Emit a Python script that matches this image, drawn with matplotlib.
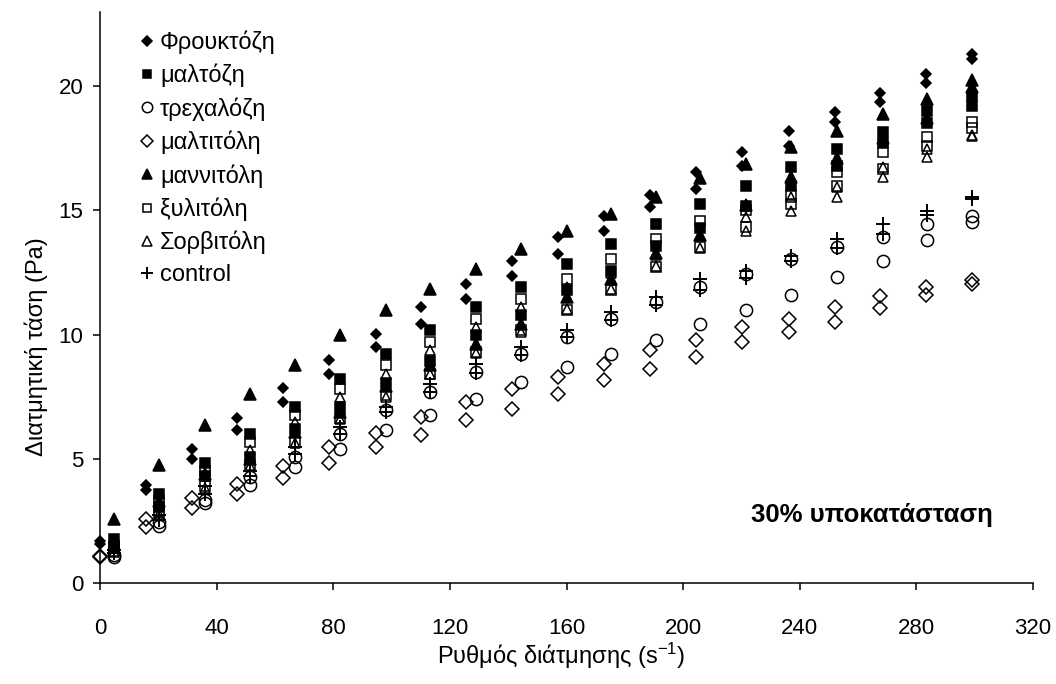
import matplotlib
matplotlib.use('Agg')
import matplotlib.pyplot as plt

plt.rcParams['font.family'] = ['Liberation Sans', 'DejaVu Sans']
plt.rcParams['mathtext.fontset'] = 'custom'
plt.rcParams['mathtext.rm'] = 'Liberation Sans'
plt.rcParams['mathtext.it'] = 'Liberation Sans:italic'

# ── ρυθμοί διάτμησης (s-1) ──
x_d = [0, 15.8, 31.4, 47.0, 62.7, 78.5, 94.5, 110.2, 125.7, 141.4,
       157.0, 172.8, 188.8, 204.4, 220.2, 236.2, 252.0, 267.6, 283.3, 299.0]   # φρουκτόζη, μαλτιτόλη
x_o = [4.8, 20.2, 36.0, 51.5, 66.8, 82.3, 98.0, 113.2, 128.8, 144.4,
       160.0, 175.3, 190.8, 205.9, 221.6, 237.1, 252.7, 268.4, 283.6, 299.1]  # υπόλοιπα

# ── διατμητική τάση (Pa): άνοδος / κάθοδος ──
fru_up = [1.70, 3.95, 5.42, 6.65, 7.87, 8.97, 10.04, 11.11, 12.05, 12.98, 13.92, 14.79, 15.60, 16.53, 17.33, 18.20, 18.94, 19.74, 20.48, 21.28]
fru_dn = [1.60, 3.75, 4.99, 6.16, 7.29, 8.43, 9.50, 10.44, 11.45, 12.38, 13.25, 14.19, 15.12, 15.86, 16.80, 17.60, 18.54, 19.34, 20.14, 21.08]

mal_up = [1.80, 3.60, 4.85, 6.02, 7.09, 8.23, 9.24, 10.17, 11.11, 11.91, 12.85, 13.65, 14.46, 15.26, 16.00, 16.73, 17.47, 18.14, 19.00, 19.60]
mal_dn = [1.45, 3.05, 4.30, 5.10, 6.20, 7.10, 8.05, 8.95, 9.97, 10.78, 11.78, 12.55, 13.55, 14.30, 15.19, 16.00, 16.80, 17.73, 18.50, 19.20]

tre_up = [1.15, 2.45, 3.35, 4.28, 5.08, 6.02, 6.96, 7.69, 8.50, 9.24, 9.90, 10.64, 11.31, 11.91, 12.45, 13.05, 13.52, 13.92, 14.46, 14.79]
tre_dn = [1.05, 2.30, 3.25, 3.95, 4.68, 5.42, 6.16, 6.76, 7.43, 8.10, 8.70, 9.24, 9.77, 10.44, 10.98, 11.58, 12.31, 12.98, 13.79, 14.52]

mlt_up = [1.11, 2.57, 3.45, 3.99, 4.71, 5.49, 6.03, 6.69, 7.29, 7.83, 8.30, 8.84, 9.37, 9.77, 10.31, 10.64, 11.11, 11.55, 11.91, 12.18]
mlt_dn = [1.05, 2.27, 3.01, 3.61, 4.22, 4.82, 5.49, 5.96, 6.56, 7.03, 7.63, 8.17, 8.63, 9.10, 9.70, 10.10, 10.51, 11.08, 11.58, 12.05]

man_up = [2.57, 4.75, 6.38, 7.63, 8.80, 9.97, 10.98, 11.85, 12.65, 13.45, 14.19, 14.86, 15.53, 16.30, 16.87, 17.53, 18.20, 18.88, 19.47, 20.25]
man_dn = [1.60, 3.30, 4.40, 5.00, 6.10, 6.90, 7.95, 8.80, 9.64, 10.44, 11.51, 12.26, 13.30, 13.99, 15.20, 16.33, 17.10, 17.90, 18.70, 19.95]

xyl_up = [1.50, 3.35, 4.50, 5.69, 6.76, 7.83, 8.77, 9.70, 10.64, 11.45, 12.25, 13.05, 13.86, 14.59, 15.00, 15.60, 16.53, 17.33, 17.94, 18.55]
xyl_dn = [1.30, 2.85, 3.90, 4.75, 5.70, 6.64, 7.56, 8.43, 9.30, 10.17, 10.98, 11.78, 12.72, 13.52, 14.35, 15.26, 16.00, 16.67, 17.60, 18.30]

sor_up = [1.40, 3.20, 4.30, 5.35, 6.50, 7.49, 8.43, 9.37, 10.31, 11.11, 11.90, 12.50, 13.20, 14.00, 14.72, 15.53, 15.93, 16.73, 17.45, 18.05]
sor_dn = [1.25, 2.80, 3.85, 4.70, 5.65, 6.60, 7.50, 8.40, 9.25, 10.10, 11.05, 11.85, 12.75, 13.50, 14.19, 14.99, 15.53, 16.33, 17.15, 18.00]

con_up = [1.35, 2.75, 3.90, 4.50, 5.50, 6.30, 7.10, 8.03, 8.84, 9.50, 10.17, 10.91, 11.51, 12.25, 12.58, 13.15, 13.86, 14.46, 14.99, 15.53]
con_dn = [1.20, 2.55, 3.60, 4.30, 5.20, 6.00, 6.90, 7.70, 8.45, 9.20, 9.90, 10.60, 11.20, 11.80, 12.30, 12.95, 13.50, 14.06, 14.80, 15.45]

x_ticks = [0, 40, 80, 120, 160, 200, 240, 280, 320]
y_ticks = [0, 5, 10, 15, 20]

# (ετικέτα, x, άνοδος, κάθοδος, marker, γέμισμα, μέγεθος)
series = [
    ('Φρουκτόζη', x_d, fru_up, fru_dn, 'D', 'k', 5.5),
    ('μαλτόζη',   x_o, mal_up, mal_dn, 's', 'k', 7.5),
    ('τρεχαλόζη', x_o, tre_up, tre_dn, 'o', 'none', 8.8),
    ('μαλτιτόλη', x_d, mlt_up, mlt_dn, 'D', 'none', 6.8),
    ('μαννιτόλη', x_o, man_up, man_dn, '^', 'k', 8.0),
    ('ξυλιτόλη',  x_o, xyl_up, xyl_dn, 's', 'none', 7.3),
    ('Σορβιτόλη', x_o, sor_up, sor_dn, '^', 'none', 7.8),
    ('control',   x_o, con_up, con_dn, '+', 'k', 9.4),
]

fig = plt.figure(figsize=(10.56, 6.84), dpi=100)
ax = fig.add_axes([100/1056, 1-583.3/684, 933/1056, 571.8/684])

handles = []
for lab, xs, up, dn, mk, fc, ms in series:
    for ys in (up, dn):
        h, = ax.plot(xs, ys, ls='none', marker=mk, ms=ms, mfc=fc, mec='k',
                     mew=1.1 if mk != '+' else 1.4, clip_on=False)
    handles.append(h)

ax.set_xlim(0, 320)
ax.set_ylim(0, 23)
ax.set_xticks(x_ticks)
ax.set_yticks(y_ticks)
for s in ('top', 'right'):
    ax.spines[s].set_visible(False)
for s in ('left', 'bottom'):
    ax.spines[s].set_linewidth(1.1)
ax.tick_params(direction='out', length=5, width=1.1, labelsize=16)
ax.tick_params(axis='x', pad=20)
ax.tick_params(axis='y', pad=7)

ax.legend(handles, [s[0] for s in series], loc='upper left',
          bbox_to_anchor=(40/933, (583.3-30.4)/571.8), frameon=False, fontsize=17,
          handlelength=0.6, handletextpad=0.25, labelspacing=0.42,
          borderpad=0, borderaxespad=0, numpoints=1, markerscale=0.85)

fig.text(872/1056, 1-515/684, '30% υποκατάσταση', ha='center', va='center',
         fontsize=18.5, fontweight='bold')
fig.text(36/1056, 1-347/684, 'Διατμητική τάση (Pa)', rotation=90,
         ha='center', va='center', fontsize=17)
fig.text(561/1056, 1-656/684, 'Ρυθμός διάτμησης (s$^{-1}$)', ha='center',
         va='center', fontsize=17)

fig.savefig('out.png', dpi=100)
